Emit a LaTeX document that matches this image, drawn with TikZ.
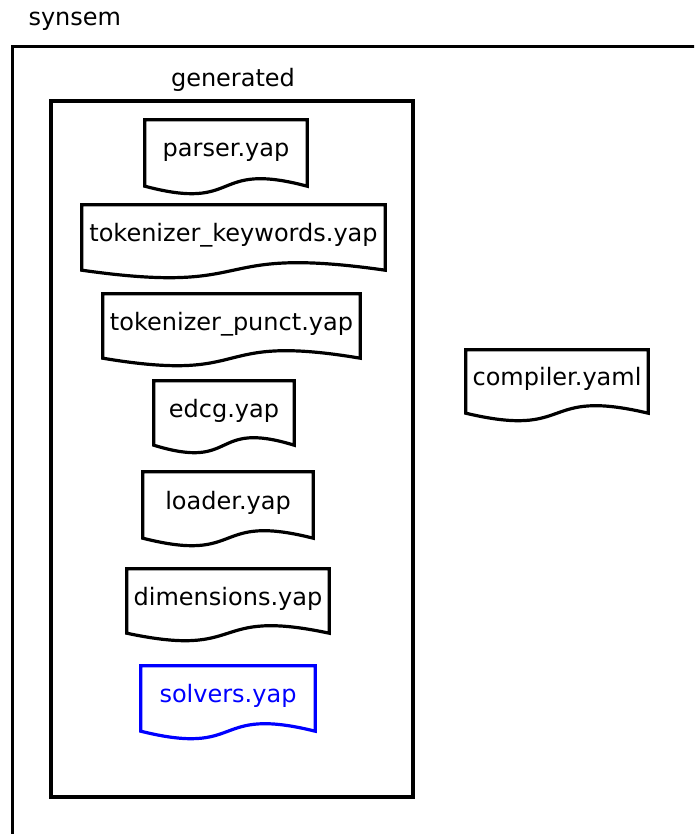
\documentclass[tikz,border=0pt]{standalone}
\usepackage{fontspec}
\setmainfont{DejaVu Sans}
\usetikzlibrary{calc}

\tikzset{
    doc/.style={inner sep=0pt, minimum height=65pt, text height=17pt, text depth=9pt,
        font=\fontsize{24}{28}\selectfont},
    docline/.style={line width=3.2pt, line join=miter},
    frame/.style={draw, line width=3.2pt, inner sep=0pt},
    title/.style={anchor=base, font=\fontsize{24}{28}\selectfont}
}

\begin{document}
\begin{tikzpicture}[x=1pt,y=1pt]
\useasboundingbox (0,0) rectangle (694,-834);
\clip (0,0) rectangle (694,-834);

% Outer folder
\node[frame, anchor=north west, minimum width=720pt, minimum height=820pt] (synsembox) at (11,-45) {};
\node[title, anchor=base west] (synsem) at (25,-26) {synsem};

% Generated folder
\node[frame, minimum width=362pt, minimum height=696pt] (genbox) at (232,-449) {};
\node[title] (generated) at (233,-87) {generated};

% Documents
\node[doc, minimum width=162pt, minimum height=66pt] (parser) at (226,-153) {parser.yap};
\node[doc, minimum width=303pt] (tokkw) at (233.5,-237.5) {tokenizer\_keywords.yap};
\node[doc, minimum width=257pt, minimum height=64pt] (tokpunct) at (231.5,-326) {tokenizer\_punct.yap};
\node[doc, minimum width=140pt, minimum height=64pt] (edcg) at (224,-413) {edcg.yap};
\node[doc, minimum width=170pt, minimum height=66pt] (loader) at (228,-505) {loader.yap};
\node[doc, minimum width=202pt, minimum height=64pt] (dimensions) at (228,-601) {dimensions.yap};
\node[doc, minimum width=174pt, text=blue] (solvers) at (228,-698.5) {solvers.yap};
\node[doc, minimum width=182pt, minimum height=63pt] (compiler) at (557,-381.5) {compiler.yaml};

% Wavy outlines
\foreach \n/\c in {parser/black, tokkw/black, tokpunct/black, edcg/black,
                   loader/black, dimensions/black, solvers/blue, compiler/black}
    \draw[docline, \c] (\n.south west) -- (\n.north west) -- (\n.north east) -- (\n.south east)
        .. controls ($(\n.south east)!0.6!(\n.south west)+(0,26)$)
        and ($(\n.south west)!0.6!(\n.south east)+(0,-26)$) .. (\n.south west) -- cycle;

\end{tikzpicture}
\end{document}
